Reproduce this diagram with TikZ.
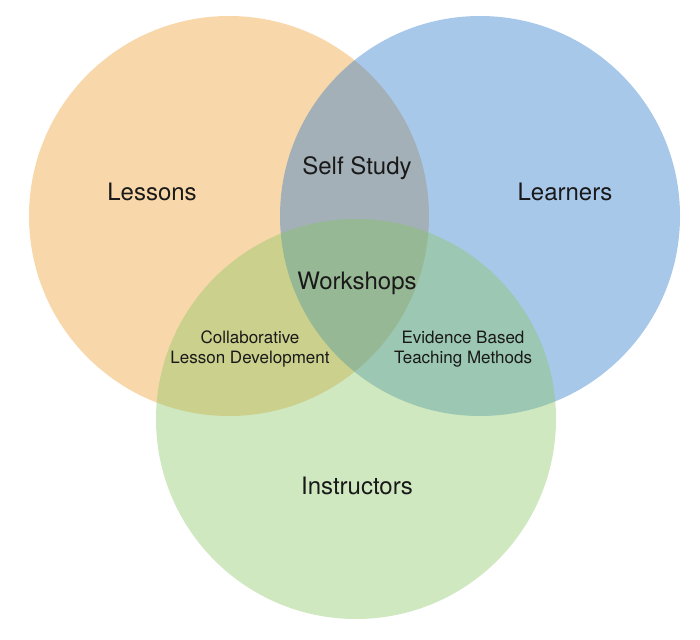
\documentclass[tikz,border=0pt]{standalone}
\usepackage{fontspec}
\setmainfont{TeX Gyre Heros}
\definecolor{vennOrange}{RGB}{237,157,42}
\definecolor{vennBlue}{RGB}{37,117,202}
\definecolor{vennGreen}{RGB}{135,197,97}
\definecolor{vennText}{RGB}{25,25,25}
\usetikzlibrary{positioning}
\tikzset{
  venn/.style={circle,draw=none,fill=#1,fill opacity=0.4,
    minimum size=400pt,inner sep=0pt},
  lbl/.style={text=vennText,font=\fontsize{24}{28}\selectfont},
  sublbl/.style={text=vennText,align=center,
    font=\fontsize{17}{20}\selectfont}
}

\begin{document}
\begin{tikzpicture}[x=1pt,y=-1pt]
  \useasboundingbox (0,0) rectangle (700,639);
  % the three sets
  \node[venn=vennOrange] (lessons)     at (229,216) {};
  \node[venn=vennBlue]   (learners)    at (480,216) {};
  \node[venn=vennGreen]  (instructors) at (356,419) {};
  % labels
  \node[lbl] (lessonsText)     at (152,192) {Lessons};
  \node[lbl] (learnersText)    at (565,192) {Learners};
  \node[lbl] (instructorsText) at (357,486) {Instructors};
  \node[lbl] (selfStudy)       at (357,168) {Self Study};
  \node[lbl] (workshops)       at (357,283) {Workshops};
  \node[sublbl] (collab)   at (250,349) {Collaborative\\Lesson Development};
  \node[sublbl] (evidence) at (463,349) {Evidence Based\\Teaching Methods};
\end{tikzpicture}
\end{document}
